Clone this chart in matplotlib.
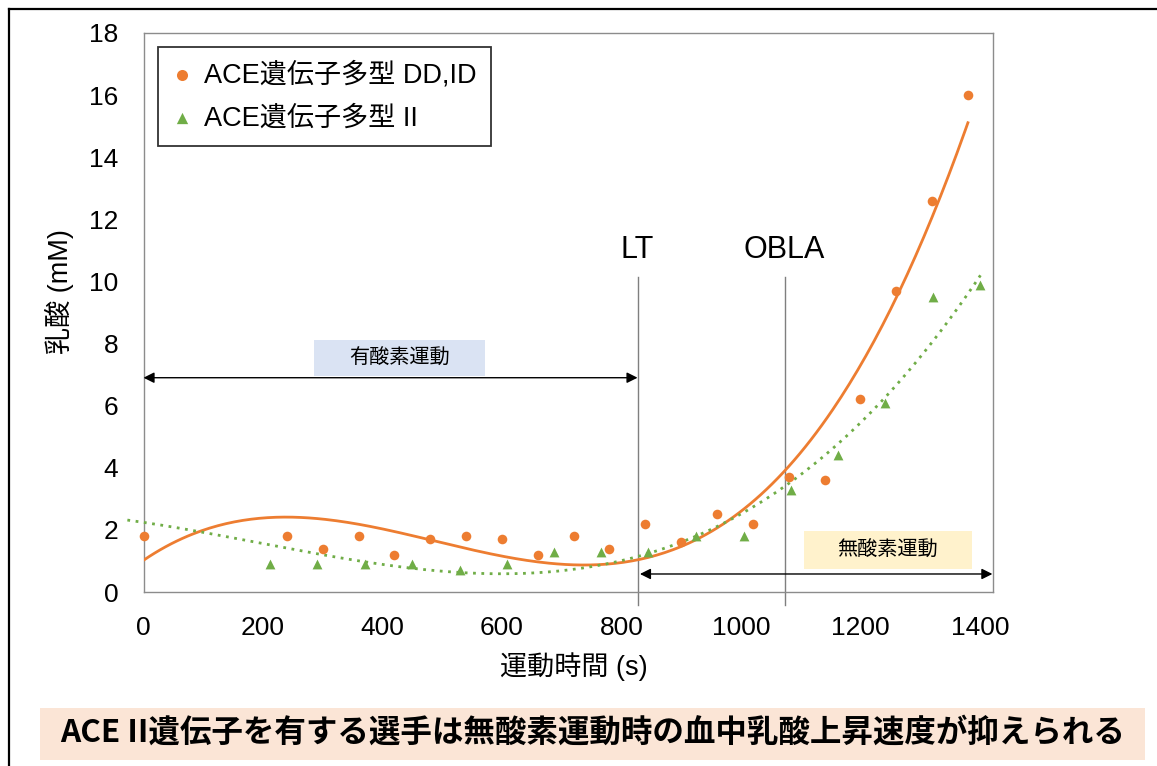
import numpy as np
import matplotlib
matplotlib.use("Agg")
import matplotlib.pyplot as plt
from matplotlib.lines import Line2D
from matplotlib.patches import Rectangle

# Blood lactate during incremental exercise, by ACE genotype
time_ddid = [0, 240, 300, 360, 420, 480, 540, 600, 660, 720, 780, 840,
             900, 960, 1020, 1080, 1140, 1200, 1260, 1320, 1380]
lactate_ddid = [1.8, 1.8, 1.4, 1.8, 1.2, 1.7, 1.8, 1.7, 1.2, 1.8, 1.4, 2.2,
                1.6, 2.5, 2.2, 3.7, 3.6, 6.2, 9.7, 12.6, 16.0]

time_ii = [212, 290, 370, 450, 529, 608, 687, 766, 845, 925, 1005,
           1084, 1163, 1242, 1321, 1401]
lactate_ii = [0.9, 0.9, 0.9, 0.9, 0.7, 0.9, 1.3, 1.3, 1.3, 1.8, 1.8,
              3.3, 4.4, 6.1, 9.5, 9.9]

# trendline of the II group (3rd-order polynomial), sampled along the curve
trend_ii_time = [0, 296, 457, 597, 720, 798, 865, 926, 1071, 1163, 1243, 1400]
trend_ii_lactate = [2.25, 1.19, 0.76, 0.58, 0.74, 0.98, 1.37, 1.82, 3.5,
                    4.63, 6.29, 10.2]

label_ddid = "ACE遺伝子多型 DD,ID"
label_ii = "ACE遺伝子多型 II"
x_ticks = [0, 200, 400, 600, 800, 1000, 1200, 1400]
y_ticks = [0, 2, 4, 6, 8, 10, 12, 14, 16, 18]

lt_time = 827
obla_time = 1073

ORANGE = "#ED7D31"
GREEN = "#70AD47"
LATIN_CJK = ["Liberation Sans", "Noto Sans CJK JP"]
plt.rcParams["font.family"] = LATIN_CJK

W, H = 1157, 766
fig = plt.figure(figsize=(W / 100, H / 100), dpi=100)
ax = fig.add_axes([143.5 / W, 1 - 592 / H, (993 - 143.5) / W, (592 - 33) / H])

ax.set_xlim(0, 1422)
ax.set_ylim(0, 18)
ax.set_xticks(x_ticks)
ax.set_yticks(y_ticks)
ax.tick_params(length=0, labelsize=19)
ax.tick_params(axis="y", pad=18)
ax.tick_params(axis="x", pad=17)
for s in ax.spines.values():
    s.set_color("#8c8c8c")
    s.set_linewidth(1.0)

# polynomial trendlines
c_ddid = np.polyfit(time_ddid, lactate_ddid, 3)
c_ii = np.polyfit(trend_ii_time, trend_ii_lactate, 3)
xs_ddid = np.linspace(0, max(time_ddid), 300)
xs_ii = np.linspace(-27, max(time_ii), 300)
ax.plot(xs_ddid, np.polyval(c_ddid, xs_ddid), color=ORANGE, lw=2.0, zorder=3)
ax.plot(xs_ii, np.polyval(c_ii, xs_ii), color=GREEN, lw=2.0,
        linestyle=(0, (1, 2)), zorder=3, clip_on=False)

ax.scatter(time_ddid, lactate_ddid, s=48, color=ORANGE, marker="o",
           linewidths=0, zorder=4, label=label_ddid, clip_on=False)
ax.scatter(time_ii, lactate_ii, s=50, color=GREEN, marker="^",
           linewidths=0, zorder=4, label=label_ii, clip_on=False)

# threshold markers
for t, name in [(lt_time, "LT"), (obla_time, "OBLA")]:
    ax.plot([t, t], [-0.42, 10.15], color="#7f7f7f", lw=1.0, clip_on=False, zorder=2)
    ax.text(t, 11.0, name, ha="center", va="center", fontsize=22,
            family=LATIN_CJK)

# aerobic / anaerobic ranges
arrow_kw = dict(arrowstyle="<|-|>", color="black", lw=1.0,
                mutation_scale=16, shrinkA=0, shrinkB=0)
ax.annotate("", xy=(0, 6.9), xytext=(lt_time, 6.9), arrowprops=arrow_kw)
ax.annotate("", xy=(lt_time + 4, 0.58), xytext=(1421, 0.58), arrowprops=arrow_kw)

ax.add_patch(Rectangle((286, 6.95), 285, 1.15, facecolor="#DAE3F3",
                       edgecolor="none", zorder=1))
ax.text(428, 7.52, "有酸素運動", ha="center", va="center", fontsize=14.5,
        family="Noto Sans CJK JP", zorder=2)
ax.add_patch(Rectangle((1105, 0.74), 282, 1.22, facecolor="#FFF2CC",
                       edgecolor="none", zorder=1))
ax.text(1246, 1.35, "無酸素運動", ha="center", va="center", fontsize=14.5,
        family="Noto Sans CJK JP", zorder=2)

leg = ax.legend(loc="upper left", bbox_to_anchor=(158 / W, 1 - 47 / H),
                bbox_transform=fig.transFigure, borderaxespad=0,
                fontsize=19.5, frameon=True, fancybox=False,
                handlelength=0.7, handletextpad=0.45, labelspacing=0.62,
                borderpad=0.55, markerscale=1.15)
leg.get_frame().set_edgecolor("black")
leg.get_frame().set_linewidth(1.3)

fig.text(574 / W, 1 - 667 / H, "運動時間 (s)", ha="center", va="center",
         fontsize=19.5)
fig.text(59 / W, 1 - 292 / H, "乳酸 (mM)", ha="center", va="center",
         rotation=90, fontsize=19.5)

# summary banner
fig.add_artist(Rectangle((40 / W, 1 - 760 / H), (1145 - 40) / W, 52 / H,
                         transform=fig.transFigure, facecolor="#FBE5D6",
                         edgecolor="none"))
fig.text(593 / W, 1 - 733 / H,
         "ACE II遺伝子を有する選手は無酸素運動時の血中乳酸上昇速度が抑えられる",
         ha="center", va="center", fontsize=22.7, fontweight="bold",
         family="Noto Sans CJK JP")

# outer frame
fig.add_artist(Line2D([8.5 / W, 8.5 / W], [0, 1 - 8.5 / H],
                      transform=fig.transFigure, color="black", lw=1.6))
fig.add_artist(Line2D([8.5 / W, 1], [1 - 8.5 / H, 1 - 8.5 / H],
                      transform=fig.transFigure, color="black", lw=1.6))

fig.savefig("out.png", dpi=100)
